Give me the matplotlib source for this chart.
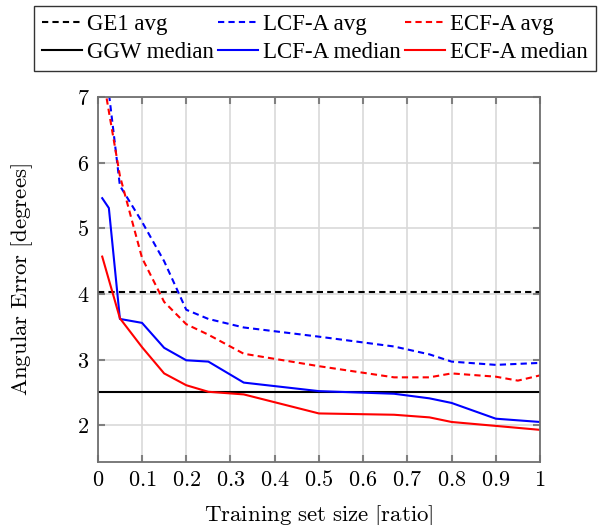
import matplotlib
matplotlib.use("Agg")
import matplotlib.pyplot as plt
import numpy as np

plt.rcParams['mathtext.fontset'] = 'cm'

# Data
ge1_avg = 4.03
ggw_median = 2.50

lcf_avg_x = [0.02, 0.05, 0.10, 0.15, 0.20, 0.25, 0.33, 0.50, 0.67, 0.75, 0.80, 0.90, 1.00]
lcf_avg_y = [7.35, 5.65, 5.10, 4.50, 3.76, 3.62, 3.49, 3.35, 3.20, 3.08, 2.97, 2.92, 2.95]

ecf_avg_x = [0.02, 0.05, 0.10, 0.15, 0.20, 0.25, 0.33, 0.50, 0.67, 0.75, 0.80, 0.90, 0.95, 1.00]
ecf_avg_y = [6.98, 5.80, 4.55, 3.88, 3.54, 3.38, 3.09, 2.90, 2.73, 2.73, 2.79, 2.74, 2.68, 2.76]

lcf_med_x = [0.01, 0.025, 0.05, 0.10, 0.15, 0.20, 0.25, 0.33, 0.50, 0.67, 0.75, 0.80, 0.90, 1.00]
lcf_med_y = [5.46, 5.31, 3.62, 3.56, 3.18, 2.99, 2.97, 2.65, 2.52, 2.48, 2.41, 2.34, 2.10, 2.05]

ecf_med_x = [0.01, 0.05, 0.10, 0.15, 0.20, 0.25, 0.33, 0.50, 0.67, 0.75, 0.80, 0.90, 1.00]
ecf_med_y = [4.57, 3.63, 3.19, 2.79, 2.61, 2.51, 2.47, 2.18, 2.16, 2.12, 2.05, 1.99, 1.93]

xticks = [0, 0.1, 0.2, 0.3, 0.4, 0.5, 0.6, 0.7, 0.8, 0.9, 1]
xticklabels = ['0', '0.1', '0.2', '0.3', '0.4', '0.5', '0.6', '0.7', '0.8', '0.9', '1']
yticks = [2, 3, 4, 5, 6, 7]

fig = plt.figure(figsize=(6.0, 5.25), dpi=100)
ax = fig.add_axes([0.163, 0.12, 0.737, 0.695])

lw = 1.5
dash = (0, (3, 2))
h1, = ax.plot([0, 1], [ge1_avg, ge1_avg], color='black', ls=dash, lw=lw, label='GE1 avg')
h2, = ax.plot(lcf_avg_x, lcf_avg_y, color='blue', ls=dash, lw=lw, label='LCF-A avg')
h3, = ax.plot(ecf_avg_x, ecf_avg_y, color='red', ls=dash, lw=lw, label='ECF-A avg')
h4, = ax.plot([0, 1], [ggw_median, ggw_median], color='black', lw=lw, label='GGW median')
h5, = ax.plot(lcf_med_x, lcf_med_y, color='blue', lw=lw, label='LCF-A median')
h6, = ax.plot(ecf_med_x, ecf_med_y, color='red', lw=lw, label='ECF-A median')

ax.set_xlim(0, 1)
ax.set_ylim(1.44, 7)
ax.set_xticks(xticks)
ax.set_xticklabels(['$' + t + '$' for t in xticklabels])
ax.set_yticks(yticks)
ax.set_yticklabels(['$%d$' % v for v in yticks])
ax.tick_params(labelsize=16, direction='in', top=True, right=True, color='#808080', length=5, width=1.5, pad=6)
ax.grid(True, color='#d9d9d9', lw=1.2)
ax.set_axisbelow(True)
for s in ax.spines.values():
    s.set_color('#707070')
    s.set_linewidth(1.3)

ax.set_xlabel(r'$\mathrm{Training\ set\ size\ [ratio]}$', fontsize=16.5)
ax.set_ylabel(r'$\mathrm{Angular\ Error\ [degrees]}$', fontsize=16.5)
ax.xaxis.set_label_coords(0.5, -0.112)
ax.yaxis.set_label_coords(-0.142, 0.5)

# row-wise order in a column-filled legend
leg = fig.legend(handles=[h1, h4, h2, h5, h3, h6], ncol=3, loc='upper left',
                 bbox_to_anchor=(34 / 600, 1 - 6 / 525),
                 prop={'family': 'Liberation Serif', 'size': 16.5}, frameon=True,
                 fancybox=False, edgecolor='black', handlelength=1.75, handletextpad=0.2,
                 columnspacing=0.2, borderaxespad=0, borderpad=0.35, labelspacing=0.3)
leg.get_frame().set_linewidth(1.0)

fig.savefig('out.png', dpi=100)
